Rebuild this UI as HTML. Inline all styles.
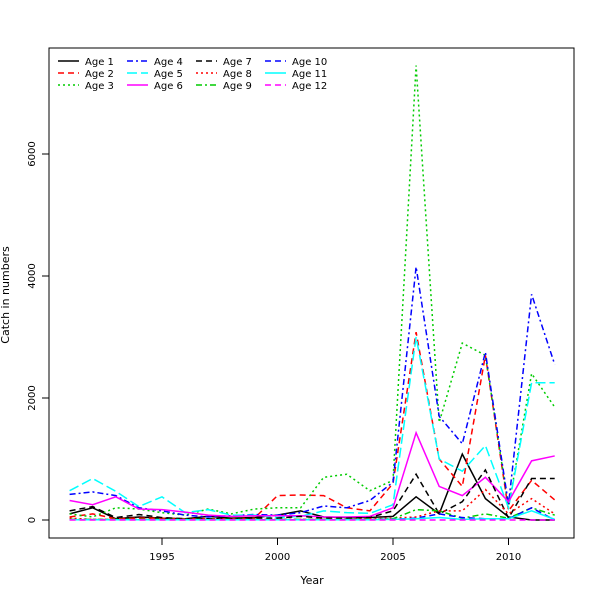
<!DOCTYPE html>
<html><head><meta charset="utf-8"><style>
body{margin:0;background:#fff;}
svg{display:block;font-family:"DejaVu Sans","Liberation Sans",sans-serif;}
</style></head><body>
<svg id="chart" width="600" height="600">
<rect x="49" y="48" width="525" height="490" fill="none" stroke="#000"/>
<text x="9" y="295" font-size="11" transform="rotate(-90 9 295)" text-anchor="middle">Catch in numbers</text>
<text x="312" y="584" font-size="11" text-anchor="middle">Year</text>
<g id="axes"></g><g id="series"></g><g id="legend"></g>
</svg>
<script>
const years=[1991,1992,1993,1994,1995,1996,1997,1998,1999,2000,2001,2002,2003,2004,2005,2006,2007,2008,2009,2010,2011,2012];
const xTicks=[1995,2000,2005,2010];
const yTicks=[0,2000,4000,6000];
const age1=[100,200,20,50,30,20,60,30,40,80,150,50,40,40,60,380,100,1080,350,50,0,0];
const age2=[50,100,20,30,30,20,20,20,30,400,410,400,200,150,600,3080,1000,550,2700,150,650,330];
const age3=[100,50,200,180,120,80,180,100,180,200,200,700,750,480,650,7450,1600,2900,2700,200,2400,1850];
const age4=[420,460,400,200,150,80,50,70,90,80,120,230,200,320,620,4150,1700,1250,2750,250,3700,2550];
const age5=[480,680,470,220,380,120,170,80,80,40,60,150,120,110,250,3000,1000,800,1220,200,2250,2250];
const age6=[320,250,380,180,170,130,80,60,70,70,70,50,50,60,200,1430,550,400,700,300,970,1050];
const age7=[150,220,40,90,40,20,20,20,30,30,60,30,30,40,150,750,100,300,820,30,680,680];
const age8=[30,10,10,10,10,10,10,10,10,10,10,10,10,20,30,50,150,150,500,100,350,100];
const age9=[10,10,10,10,10,10,10,10,10,10,10,10,10,10,20,170,150,30,100,30,200,80];
const age10=[5,5,5,5,5,5,5,5,5,5,5,5,5,5,10,30,100,40,20,20,200,0];
const age11=[5,5,5,5,5,5,5,5,5,5,5,5,5,5,10,20,40,10,20,20,150,10];
const age12=[0,0,0,0,0,0,0,0,0,0,0,0,0,0,0,0,0,0,0,0,0,0];
const seriesNames=["Age 1","Age 2","Age 3","Age 4","Age 5","Age 6","Age 7","Age 8","Age 9","Age 10","Age 11","Age 12"];
const allSeries=[age1,age2,age3,age4,age5,age6,age7,age8,age9,age10,age11,age12];
const styles=[["#000",""],["#f00","6,4"],["#0c0","2,3"],["#00f","6,3,2,3"],["#0ff","10,4"],["#f0f",""],["#000","6,4"],["#f00","2,3"],["#0c0","6,3,2,3"],["#00f","6,4"],["#0ff",""],["#f0f","6,4"]];
const NS="http://www.w3.org/2000/svg";
const x=v=>69.6+(v-1991)*23.1;
const y=v=>520-v*0.0610;
function mk(t,a,p){const e=document.createElementNS(NS,t);for(const k in a)e.setAttribute(k,a[k]);p.appendChild(e);return e;}
const ax=document.getElementById('axes');
xTicks.forEach(t=>{
 const l=mk('line',{x1:x(t),x2:x(t),y1:538,y2:545,stroke:'#000'},ax);
 
 
 const tx=mk('text',{x:x(t),y:560,'font-size':10,'text-anchor':'middle'},ax);tx.textContent=t;
 
 
});
yTicks.forEach(t=>{
 const l=mk('line',{x1:42,x2:49,y1:y(t),y2:y(t),stroke:'#000'},ax);
 
 
 const tx=mk('text',{x:35,y:y(t),'font-size':10,'text-anchor':'middle',transform:`rotate(-90 35 ${y(t)})`},ax);tx.textContent=t;
 
 
});
const sg=document.getElementById('series');
allSeries.forEach((s,i)=>{
 const p=mk('polyline',{points:s.map((v,j)=>x(years[j])+','+y(v)).join(' '),fill:'none',stroke:styles[i][0],'stroke-width':1.5,'stroke-dasharray':styles[i][1]},sg);
 
 
});
const lg=document.getElementById('legend');
seriesNames.forEach((n,i)=>{
 const c=Math.floor(i/3),r=i%3;const lx=58+c*69,ly=61+r*12;
 const l=mk('line',{x1:lx,x2:lx+21,y1:ly,y2:ly,stroke:styles[i][0],'stroke-width':1.5,'stroke-dasharray':styles[i][1]},lg);
 
 
 const t=mk('text',{x:lx+27,y:ly+4,'font-size':10},lg);t.textContent=n;
 
 
});
</script>
</body></html>
